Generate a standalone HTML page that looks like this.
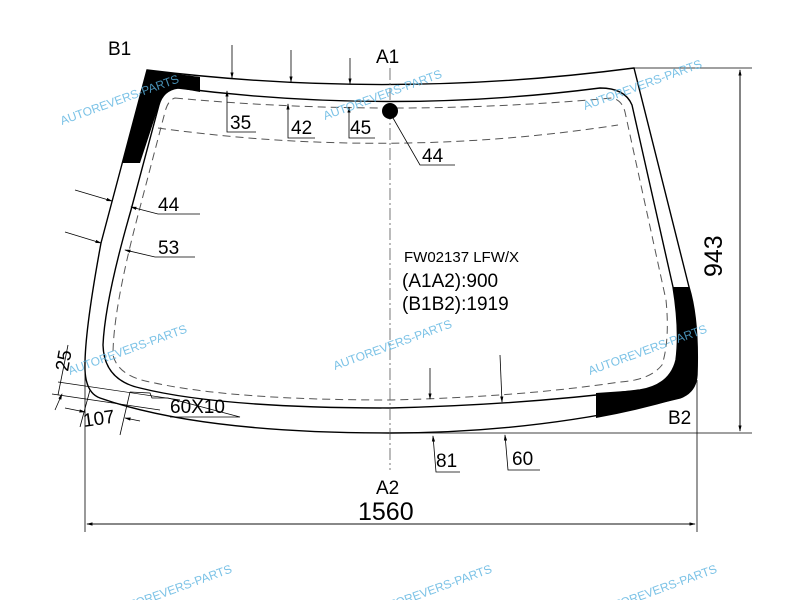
<!DOCTYPE html>
<html><head><meta charset="utf-8"><style>
html,body{margin:0;padding:0;background:#fff;}
svg{display:block;font-family:"Liberation Sans",Arial,sans-serif;}
.wm{fill:#5ab3e0;font-size:12px;opacity:.8}
</style></head><body>
<svg width="800" height="600" viewBox="0 0 800 600">
<defs><marker id="a" markerWidth="8" markerHeight="8" refX="7" refY="4" orient="auto"><path d="M0,2 L8,4 L0,6 Z" fill="#000"/></marker></defs>
<g fill="none" stroke="#000" stroke-width="1.4">
<path d="M147,70 Q390,100 634,68 L689,287 Q699,320 697,375 Q696,392 680,398 Q540,433 390,433 Q200,433 100,398 Q86,393 85,370 Q84,335 101,243 Z"/>
<path d="M178,88 Q390,115 600,88 Q625,88 632,105 L673,287 Q680,330 676,360 Q670,385 640,390 Q520,405 390,408 Q220,408 140,388 Q104,380 103,345 Q105,300 131,210 L159,105 Q163,90 178,88 Z"/>
</g>
<path d="M147,70 L200,77 L200,92 L178,88 Q163,90 159,105 L140,163 L122,163 Z" fill="#000"/>
<path d="M673,287 L689,287 Q699,320 697,375 Q696,392 680,398 Q640,410 596,418 L596,393 L640,390 Q670,385 676,360 Q680,330 673,287 Z" fill="#000"/>
<g fill="none" stroke="#555" stroke-width="1" stroke-dasharray="8,5">
<path d="M175,98 Q390,118 612,98 Q622,100 625,112 L666,300 Q670,340 662,365 Q650,380 620,382 Q520,397 390,400 Q230,400 150,382 Q118,376 113,355 Q113,310 138,215 L165,112 Q168,100 175,98 Z"/>
<path d="M158,128 Q390,160 618,125"/>
</g>
<line x1="390" y1="68" x2="390" y2="470" stroke="#555" stroke-width="0.8" stroke-dasharray="12,3,2,3"/>
<circle cx="390" cy="111" r="8" fill="#000"/>
<g stroke="#000" stroke-width="0.8" fill="none">
<line x1="634" y1="68" x2="752" y2="68"/><line x1="390" y1="433" x2="752" y2="433"/>
<line x1="740" y1="70" x2="740" y2="431" marker-end="url(#a)"/><line x1="740" y1="431" x2="740" y2="70" marker-end="url(#a)"/>
<line x1="85" y1="370" x2="85" y2="532"/><line x1="697" y1="380" x2="697" y2="532"/>
<line x1="87" y1="524" x2="695" y2="524" marker-end="url(#a)"/><line x1="695" y1="524" x2="87" y2="524" marker-end="url(#a)"/>
<line x1="232" y1="45" x2="232" y2="78" marker-end="url(#a)"/>
<line x1="291" y1="50" x2="291" y2="82" marker-end="url(#a)"/>
<line x1="350" y1="58" x2="350" y2="84" marker-end="url(#a)"/>
<polyline points="256,132 227,132 227,91" marker-end="url(#a)"/>
<polyline points="315,138 288,138 288,104" marker-end="url(#a)"/>
<polyline points="375,138 349,138 349,107" marker-end="url(#a)"/>
<polyline points="455,165 420,165 393,118"/>
<line x1="75" y1="190" x2="112" y2="201" marker-end="url(#a)"/>
<line x1="65" y1="232" x2="101" y2="243" marker-end="url(#a)"/>
<polyline points="200,214 158,214 131,207" marker-end="url(#a)"/>
<polyline points="195,257 155,257 125,250" marker-end="url(#a)"/>
<line x1="430" y1="368" x2="430" y2="399" marker-end="url(#a)"/>
<line x1="500" y1="355" x2="502" y2="402" marker-end="url(#a)"/>
<polyline points="460,472 436,472 433,436" marker-end="url(#a)"/>
<polyline points="540,470 508,470 505,435" marker-end="url(#a)"/>
<line x1="58" y1="382" x2="180" y2="400" stroke-width="0.7"/>
<line x1="52" y1="394" x2="160" y2="410" stroke-width="0.7"/>
<line x1="55" y1="410" x2="62" y2="394" marker-end="url(#a)"/>
<line x1="68" y1="345" x2="58" y2="395"/>
<line x1="80" y1="427" x2="90" y2="390"/>
<line x1="65" y1="408" x2="85" y2="412" marker-end="url(#a)"/>
<line x1="120" y1="435" x2="130" y2="392"/>
<line x1="140" y1="421" x2="125" y2="418" marker-end="url(#a)"/>
<polyline points="130,392 150,393 152,398 168,398 240,417 170,417"/>
</g>
<g font-size="19" fill="#000">
<text x="108" y="55">B1</text><text x="376" y="63">A1</text>
<text x="668" y="424">B2</text><text x="376" y="494">A2</text>
<text x="230" y="129">35</text><text x="291" y="134">42</text><text x="350" y="134">45</text>
<text x="422" y="162">44</text><text x="158" y="211">44</text><text x="158" y="254">53</text>
<text x="436" y="467">81</text><text x="512" y="465">60</text>
<text x="170" y="413">60X10</text><text x="84" y="427" transform="rotate(-8 84 427)">107</text>
<text x="68" y="372" transform="rotate(-80 68 372)">25</text>
<text x="402" y="310">(B1B2):1919</text><text x="402" y="287">(A1A2):900</text>
<text x="358" y="520" font-size="25">1560</text>
<text x="722" y="277" font-size="25" transform="rotate(-90 722 277)">943</text>
</g>
<text x="404" y="262" font-size="15">FW02137 LFW/X</text>
<g class="wm">
<text x="62" y="125" transform="rotate(-20 62 125)">AUTOREVERS-PARTS</text>
<text x="325" y="120" transform="rotate(-20 325 120)">AUTOREVERS-PARTS</text>
<text x="585" y="110" transform="rotate(-20 585 110)">AUTOREVERS-PARTS</text>
<text x="70" y="375" transform="rotate(-20 70 375)">AUTOREVERS-PARTS</text>
<text x="335" y="370" transform="rotate(-20 335 370)">AUTOREVERS-PARTS</text>
<text x="590" y="375" transform="rotate(-20 590 375)">AUTOREVERS-PARTS</text>
<text x="115" y="615" transform="rotate(-20 115 615)">AUTOREVERS-PARTS</text>
<text x="375" y="615" transform="rotate(-20 375 615)">AUTOREVERS-PARTS</text>
<text x="600" y="615" transform="rotate(-20 600 615)">AUTOREVERS-PARTS</text>
</g>
</svg>
</body></html>
